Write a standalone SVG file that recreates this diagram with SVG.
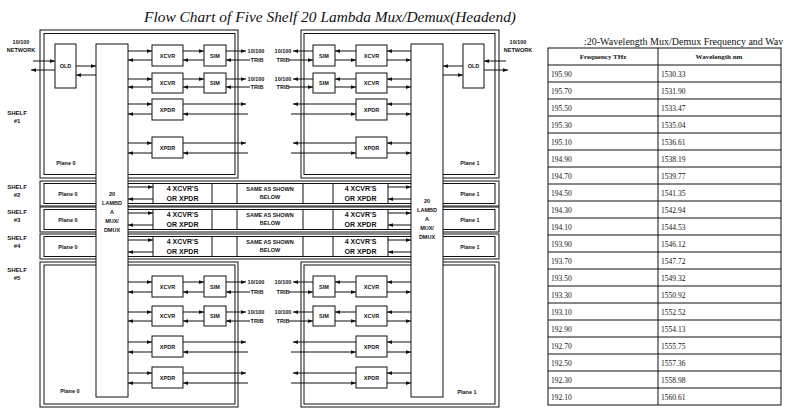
<svg xmlns="http://www.w3.org/2000/svg" width="786" height="408" viewBox="0 0 786 408">
<defs>
<marker id="ah" viewBox="0 0 8 6" refX="8" refY="3" markerWidth="5" markerHeight="4" markerUnits="userSpaceOnUse" orient="auto"><path d="M0,0L8,3L0,6z" fill="#111"/></marker>
<style>
.fr{fill:none;stroke:#111;stroke-width:1}
.bx{fill:#fff;stroke:#111;stroke-width:1}
.a{stroke:#111;stroke-width:1;fill:none;marker-end:url(#ah)}
.t{font-family:"Liberation Sans",Arial,sans-serif;font-weight:bold;font-size:5.5px;text-anchor:middle;fill:#111}
.tm{font-family:"Liberation Sans",Arial,sans-serif;font-weight:bold;font-size:7px;text-anchor:middle;fill:#111}
.ts{font-family:"Liberation Sans",Arial,sans-serif;font-weight:bold;font-size:6px;text-anchor:middle;fill:#111}
.tb{font-family:"Liberation Serif","Times New Roman",serif;font-size:7.5px;fill:#111}
.th{font-family:"Liberation Serif","Times New Roman",serif;font-size:7px;font-weight:bold;text-anchor:middle;fill:#111}
</style>
</defs>
<rect width="786" height="408" fill="#fff"/>
<text x="330" y="22" font-family="Liberation Serif, Times New Roman, serif" font-style="italic" font-size="15" textLength="372" lengthAdjust="spacingAndGlyphs" text-anchor="middle" fill="#111">Flow Chart of Five Shelf 20 Lambda Mux/Demux(Headend)</text>

<g id="shelf1-left"><rect class="fr" x="40" y="30" width="198" height="148"/><rect class="fr" x="44" y="33.5" width="191" height="141"/><text class="t" x="66" y="165">Plane 0</text></g>
<g id="shelf1-right"><rect class="fr" x="301" y="30" width="198" height="148"/><rect class="fr" x="304" y="33.5" width="191" height="141"/><text class="t" x="470" y="165">Plane 1</text></g>

<g id="shelf2"><rect class="fr" x="40" y="181" width="459" height="25"/><rect class="fr" x="44" y="183.5" width="451" height="20"/><path class="fr" d="M153,183.5V203.5M212,183.5V203.5M237,183.5V203.5M303,183.5V203.5M333,183.5V203.5M388,183.5V203.5"/>
<text class="t" x="68" y="195.5">Plane 0</text><text class="t" x="470" y="195.5">Plane 1</text>
<text class="tm" x="182.5" y="191">4 XCVR'S</text><text class="tm" x="182.5" y="201">OR XPDR</text>
<text class="t" x="270" y="191">SAME AS SHOWN</text><text class="t" x="270" y="199">BELOW</text>
<text class="tm" x="360.5" y="191">4 XCVR'S</text><text class="tm" x="360.5" y="201">OR XPDR</text></g>

<g id="shelf3"><rect class="fr" x="40" y="207" width="459" height="25"/><rect class="fr" x="44" y="209.5" width="451" height="20"/><path class="fr" d="M153,209.5V229.5M212,209.5V229.5M237,209.5V229.5M303,209.5V229.5M333,209.5V229.5M388,209.5V229.5"/>
<text class="t" x="68" y="221.5">Plane 0</text><text class="t" x="470" y="221.5">Plane 1</text>
<text class="tm" x="182.5" y="217">4 XCVR'S</text><text class="tm" x="182.5" y="227">OR XPDR</text>
<text class="t" x="270" y="217">SAME AS SHOWN</text><text class="t" x="270" y="225">BELOW</text>
<text class="tm" x="360.5" y="217">4 XCVR'S</text><text class="tm" x="360.5" y="227">OR XPDR</text></g>

<g id="shelf4"><rect class="fr" x="40" y="234" width="459" height="25"/><rect class="fr" x="44" y="236.5" width="451" height="20"/><path class="fr" d="M153,236.5V256.5M212,236.5V256.5M237,236.5V256.5M303,236.5V256.5M333,236.5V256.5M388,236.5V256.5"/>
<text class="t" x="68" y="248.5">Plane 0</text><text class="t" x="470" y="248.5">Plane 1</text>
<text class="tm" x="182.5" y="244">4 XCVR'S</text><text class="tm" x="182.5" y="254">OR XPDR</text>
<text class="t" x="270" y="244">SAME AS SHOWN</text><text class="t" x="270" y="252">BELOW</text>
<text class="tm" x="360.5" y="244">4 XCVR'S</text><text class="tm" x="360.5" y="254">OR XPDR</text></g>

<g id="shelf5-left"><rect class="fr" x="40" y="262" width="198" height="145"/><rect class="fr" x="44" y="265" width="191" height="139"/><text class="t" x="70" y="393">Plane 0</text></g>
<g id="shelf5-right"><rect class="fr" x="301" y="262" width="198" height="145"/><rect class="fr" x="304" y="265" width="191" height="139"/><text class="t" x="467" y="394">Plane 1</text></g>

<g id="mux-left"><rect class="bx" x="96" y="44" width="32" height="353"/><text class="t" x="112" y="196">20</text><text class="t" x="112" y="205">LAMBD</text><text class="t" x="112" y="214">A</text><text class="t" x="112" y="223">MUX/</text><text class="t" x="112" y="232">DMUX</text></g>
<g id="mux-right"><rect class="bx" x="411" y="44" width="32" height="353"/><text class="t" x="427" y="203">20</text><text class="t" x="427" y="212">LAMBD</text><text class="t" x="427" y="221">A</text><text class="t" x="427" y="230">MUX/</text><text class="t" x="427" y="239">DMUX</text></g>

<g id="old-left"><rect class="bx" x="55" y="44" width="21" height="44"/><text class="t" x="65.5" y="68">OLD</text></g>
<g id="old-right"><rect class="bx" x="463" y="44" width="21" height="44"/><text class="t" x="473.5" y="68">OLD</text></g>

<g id="s1-xcvr1-l"><rect class="bx" x="152" y="45" width="31" height="21"/><text class="t" x="167.5" y="57.5">XCVR</text></g>
<g id="s1-sim1-l"><rect class="bx" x="204" y="45" width="22" height="21"/><text class="t" x="215" y="57.5">SIM</text></g>
<g id="s1-xcvr2-l"><rect class="bx" x="152" y="73" width="31" height="20"/><text class="t" x="167.5" y="85">XCVR</text></g>
<g id="s1-sim2-l"><rect class="bx" x="204" y="73" width="22" height="20"/><text class="t" x="215" y="85">SIM</text></g>
<g id="s1-xpdr1-l"><rect class="bx" x="152" y="99" width="31" height="21"/><text class="t" x="167.5" y="111.5">XPDR</text></g>
<g id="s1-xpdr2-l"><rect class="bx" x="152" y="137" width="31" height="21"/><text class="t" x="167.5" y="149.5">XPDR</text></g>
<g id="s1-xcvr1-r"><rect class="bx" x="356" y="45" width="31" height="21"/><text class="t" x="371.5" y="57.5">XCVR</text></g>
<g id="s1-sim1-r"><rect class="bx" x="313" y="45" width="22" height="21"/><text class="t" x="324" y="57.5">SIM</text></g>
<g id="s1-xcvr2-r"><rect class="bx" x="356" y="73" width="31" height="20"/><text class="t" x="371.5" y="85">XCVR</text></g>
<g id="s1-sim2-r"><rect class="bx" x="313" y="73" width="22" height="20"/><text class="t" x="324" y="85">SIM</text></g>
<g id="s1-xpdr1-r"><rect class="bx" x="356" y="99" width="31" height="21"/><text class="t" x="371.5" y="111.5">XPDR</text></g>
<g id="s1-xpdr2-r"><rect class="bx" x="356" y="137" width="31" height="21"/><text class="t" x="371.5" y="149.5">XPDR</text></g>

<g id="s5-xcvr1-l"><rect class="bx" x="152" y="276" width="31" height="21"/><text class="t" x="167.5" y="288.5">XCVR</text></g>
<g id="s5-sim1-l"><rect class="bx" x="204" y="276" width="22" height="21"/><text class="t" x="215" y="288.5">SIM</text></g>
<g id="s5-xcvr2-l"><rect class="bx" x="152" y="306" width="31" height="20"/><text class="t" x="167.5" y="318">XCVR</text></g>
<g id="s5-sim2-l"><rect class="bx" x="204" y="306" width="22" height="20"/><text class="t" x="215" y="318">SIM</text></g>
<g id="s5-xpdr1-l"><rect class="bx" x="152" y="336" width="31" height="21"/><text class="t" x="167.5" y="348.5">XPDR</text></g>
<g id="s5-xpdr2-l"><rect class="bx" x="152" y="367" width="31" height="21"/><text class="t" x="167.5" y="379.5">XPDR</text></g>
<g id="s5-xcvr1-r"><rect class="bx" x="356" y="276" width="31" height="21"/><text class="t" x="371.5" y="288.5">XCVR</text></g>
<g id="s5-sim1-r"><rect class="bx" x="313" y="276" width="22" height="21"/><text class="t" x="324" y="288.5">SIM</text></g>
<g id="s5-xcvr2-r"><rect class="bx" x="356" y="306" width="31" height="20"/><text class="t" x="371.5" y="318">XCVR</text></g>
<g id="s5-sim2-r"><rect class="bx" x="313" y="306" width="22" height="20"/><text class="t" x="324" y="318">SIM</text></g>
<g id="s5-xpdr1-r"><rect class="bx" x="356" y="336" width="31" height="21"/><text class="t" x="371.5" y="348.5">XPDR</text></g>
<g id="s5-xpdr2-r"><rect class="bx" x="356" y="367" width="31" height="21"/><text class="t" x="371.5" y="379.5">XPDR</text></g>

<g id="connectors">
<path class="a" d="M33,61H55"/><path class="a" d="M55,70H31"/><path class="a" d="M76,66H96"/><path class="a" d="M96,75H76"/>
<path class="a" d="M506,61H484"/><path class="a" d="M484,70H508"/><path class="a" d="M463,66H443"/><path class="a" d="M443,75H463"/>
<!-- left XCVR rows -->
<path class="a" d="M128,51H152"/><path class="a" d="M152,60H128"/><path class="a" d="M183,51H204"/><path class="a" d="M204,60H183"/><path class="a" d="M226,51H246"/><path class="a" d="M250,60H226"/>
<path class="a" d="M128,79H152"/><path class="a" d="M152,87H128"/><path class="a" d="M183,79H204"/><path class="a" d="M204,87H183"/><path class="a" d="M226,79H246"/><path class="a" d="M250,87H226"/>
<path class="a" d="M128,282H152"/><path class="a" d="M152,292H128"/><path class="a" d="M183,282H204"/><path class="a" d="M204,292H183"/><path class="a" d="M226,282H246"/><path class="a" d="M250,292H226"/>
<path class="a" d="M128,312H152"/><path class="a" d="M152,321H128"/><path class="a" d="M183,312H204"/><path class="a" d="M204,321H183"/><path class="a" d="M226,312H246"/><path class="a" d="M250,321H226"/>
<!-- left XPDR rows -->
<path class="a" d="M128,104H152"/><path class="a" d="M152,114H128"/><path class="a" d="M183,104H246"/><path class="a" d="M248,114H183"/>
<path class="a" d="M128,143H152"/><path class="a" d="M152,153H128"/><path class="a" d="M183,143H246"/><path class="a" d="M248,153H183"/>
<path class="a" d="M128,342H152"/><path class="a" d="M152,352H128"/><path class="a" d="M183,342H246"/><path class="a" d="M248,352H183"/>
<path class="a" d="M128,373H152"/><path class="a" d="M152,383H128"/><path class="a" d="M183,373H246"/><path class="a" d="M248,383H183"/>
<!-- right XCVR rows -->
<path class="a" d="M411,51H387"/><path class="a" d="M387,60H411"/><path class="a" d="M356,51H335"/><path class="a" d="M335,60H356"/><path class="a" d="M313,51H293"/><path class="a" d="M289,60H313"/>
<path class="a" d="M411,79H387"/><path class="a" d="M387,87H411"/><path class="a" d="M356,79H335"/><path class="a" d="M335,87H356"/><path class="a" d="M313,79H293"/><path class="a" d="M289,87H313"/>
<path class="a" d="M411,282H387"/><path class="a" d="M387,292H411"/><path class="a" d="M356,282H335"/><path class="a" d="M335,292H356"/><path class="a" d="M313,282H293"/><path class="a" d="M289,292H313"/>
<path class="a" d="M411,312H387"/><path class="a" d="M387,321H411"/><path class="a" d="M356,312H335"/><path class="a" d="M335,321H356"/><path class="a" d="M313,312H293"/><path class="a" d="M289,321H313"/>
<!-- right XPDR rows -->
<path class="a" d="M411,104H387"/><path class="a" d="M387,114H411"/><path class="a" d="M356,104H293"/><path class="a" d="M291,114H356"/>
<path class="a" d="M411,143H387"/><path class="a" d="M387,153H411"/><path class="a" d="M356,143H293"/><path class="a" d="M291,153H356"/>
<path class="a" d="M411,342H387"/><path class="a" d="M387,352H411"/><path class="a" d="M356,342H293"/><path class="a" d="M291,352H356"/>
<path class="a" d="M411,373H387"/><path class="a" d="M387,383H411"/><path class="a" d="M356,373H293"/><path class="a" d="M291,383H356"/>
<!-- rows 2-4 -->
<path class="a" d="M128,187H153"/><path class="a" d="M153,199H128"/><path class="a" d="M388,187H411"/><path class="a" d="M411,199H388"/>
<path class="a" d="M128,213H153"/><path class="a" d="M153,225H128"/><path class="a" d="M388,213H411"/><path class="a" d="M411,225H388"/>
<path class="a" d="M128,240H153"/><path class="a" d="M153,252H128"/><path class="a" d="M388,240H411"/><path class="a" d="M411,252H388"/>
</g>

<g id="labels">
<text class="t" x="21" y="44">10/100</text><text class="t" x="21" y="52">NETWORK</text>
<text class="t" x="518" y="44">10/100</text><text class="t" x="518" y="52">NETWORK</text>
<text class="t" x="256" y="53">10/100</text><text class="t" x="257" y="62">TRIB</text>
<text class="t" x="256" y="81">10/100</text><text class="t" x="257" y="89">TRIB</text>
<text class="t" x="256" y="284">10/100</text><text class="t" x="257" y="294">TRIB</text>
<text class="t" x="256" y="314">10/100</text><text class="t" x="257" y="323">TRIB</text>
<text class="t" x="283" y="53">10/100</text><text class="t" x="283" y="62">TRIB</text>
<text class="t" x="283" y="81">10/100</text><text class="t" x="283" y="89">TRIB</text>
<text class="t" x="283" y="284">10/100</text><text class="t" x="283" y="294">TRIB</text>
<text class="t" x="283" y="314">10/100</text><text class="t" x="283" y="323">TRIB</text>
<text class="ts" x="17" y="115">SHELF</text><text class="ts" x="17" y="123">#1</text>
<text class="ts" x="17" y="189">SHELF</text><text class="ts" x="17" y="197">#2</text>
<text class="ts" x="17" y="214">SHELF</text><text class="ts" x="17" y="222">#3</text>
<text class="ts" x="17" y="240">SHELF</text><text class="ts" x="17" y="248">#4</text>
<text class="ts" x="17" y="272">SHELF</text><text class="ts" x="17" y="280">#5</text>
</g>

<g id="table">
<text x="584" y="45" font-family="Liberation Serif, Times New Roman, serif" font-size="10" fill="#111">:20-Wavelength Mux/Demux Frequency and Wav</text>
<rect class="fr" x="548" y="48" width="233" height="357"/>
<path class="fr" d="M658,48V405M548,65H781M548,82H781M548,99H781M548,116H781M548,133H781M548,150H781M548,167H781M548,184H781M548,201H781M548,218H781M548,235H781M548,252H781M548,269H781M548,286H781M548,303H781M548,320H781M548,337H781M548,354H781M548,371H781M548,388H781"/>
<text class="th" x="603" y="59">Frequency THz</text><text class="th" x="719" y="59">Wavelength nm</text>
<text class="tb" x="551" y="76.5">195.90</text><text class="tb" x="661" y="76.5">1530.33</text>
<text class="tb" x="551" y="93.5">195.70</text><text class="tb" x="661" y="93.5">1531.90</text>
<text class="tb" x="551" y="110.5">195.50</text><text class="tb" x="661" y="110.5">1533.47</text>
<text class="tb" x="551" y="127.5">195.30</text><text class="tb" x="661" y="127.5">1535.04</text>
<text class="tb" x="551" y="144.5">195.10</text><text class="tb" x="661" y="144.5">1536.61</text>
<text class="tb" x="551" y="161.5">194.90</text><text class="tb" x="661" y="161.5">1538.19</text>
<text class="tb" x="551" y="178.5">194.70</text><text class="tb" x="661" y="178.5">1539.77</text>
<text class="tb" x="551" y="195.5">194.50</text><text class="tb" x="661" y="195.5">1541.35</text>
<text class="tb" x="551" y="212.5">194.30</text><text class="tb" x="661" y="212.5">1542.94</text>
<text class="tb" x="551" y="229.5">194.10</text><text class="tb" x="661" y="229.5">1544.53</text>
<text class="tb" x="551" y="246.5">193.90</text><text class="tb" x="661" y="246.5">1546.12</text>
<text class="tb" x="551" y="263.5">193.70</text><text class="tb" x="661" y="263.5">1547.72</text>
<text class="tb" x="551" y="280.5">193.50</text><text class="tb" x="661" y="280.5">1549.32</text>
<text class="tb" x="551" y="297.5">193.30</text><text class="tb" x="661" y="297.5">1550.92</text>
<text class="tb" x="551" y="314.5">193.10</text><text class="tb" x="661" y="314.5">1552.52</text>
<text class="tb" x="551" y="331.5">192.90</text><text class="tb" x="661" y="331.5">1554.13</text>
<text class="tb" x="551" y="348.5">192.70</text><text class="tb" x="661" y="348.5">1555.75</text>
<text class="tb" x="551" y="365.5">192.50</text><text class="tb" x="661" y="365.5">1557.36</text>
<text class="tb" x="551" y="382.5">192.30</text><text class="tb" x="661" y="382.5">1558.98</text>
<text class="tb" x="551" y="399.5">192.10</text><text class="tb" x="661" y="399.5">1560.61</text>
</g>
</svg>
